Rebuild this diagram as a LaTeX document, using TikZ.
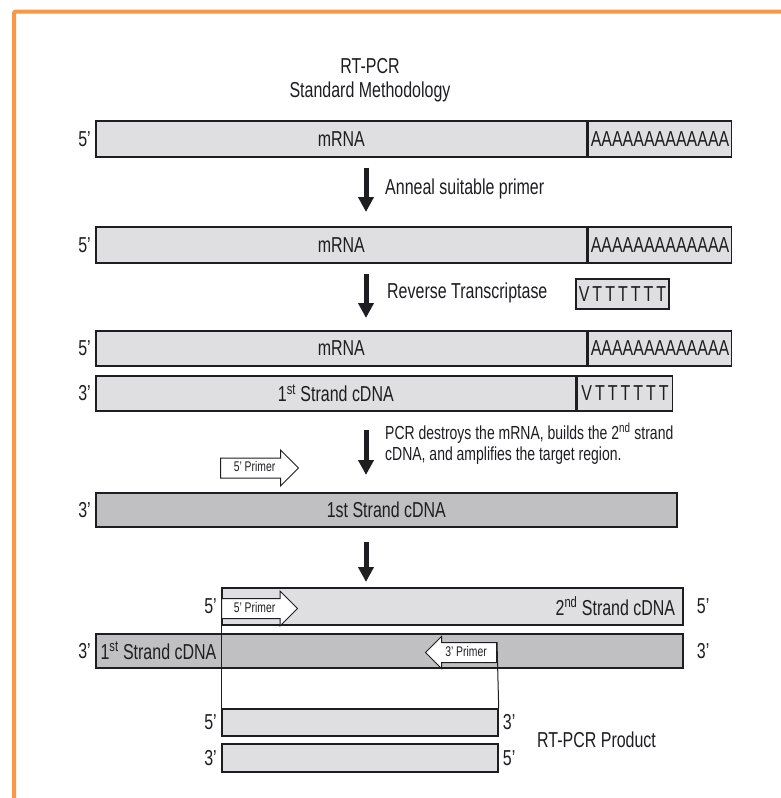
\documentclass[tikz,border=0pt]{standalone}
\usepackage{fontspec}
\setmainfont{Liberation Sans}[FakeStretch=0.74]
\usepackage{xcolor}
\usetikzlibrary{shapes.arrows, arrows.meta, positioning, calc}
\definecolor{grisclaro}{RGB}{223,223,225}
\definecolor{grisoscuro}{RGB}{192,192,194}
\definecolor{naranja}{RGB}{247,152,72}
\definecolor{tinta}{RGB}{30,30,34}
\newcommand{\bigfont}{\fontsize{21.6}{24}\selectfont}
\newcommand{\midfont}{\fontsize{18.9}{21.5}\selectfont}
\newcommand{\primerfont}{\fontsize{14}{15}\selectfont}

\begin{document}
\begin{tikzpicture}[x=1pt, y=-1pt,
    bar/.style={rectangle, draw=tinta, line width=1.7pt, fill=grisclaro, minimum height=36pt, inner sep=0pt, anchor=north west, font=\bigfont, text=tinta},
    darkbar/.style={bar, fill=grisoscuro},
    endlbl/.style={font=\bigfont, text=tinta, inner sep=1pt},
    primer/.style={single arrow, draw=tinta, line width=1pt, fill=white, font=\primerfont, text=tinta, text height=9pt, text depth=2pt, inner ysep=4pt, inner xsep=2pt, anchor=tail},
    bigarrow/.style={line width=5pt, -{Triangle[width=15pt,length=15pt]}, tinta},
    steplbl/.style={font=\bigfont, text=tinta, anchor=west, inner sep=0pt}
]
\fill[white] (0,0) rectangle (780,798);
\useasboundingbox (0,0) rectangle (780,798);
\draw[naranja, line width=4pt, rounded corners=2pt] (14,802) -- (14,11.5) -- (784,11.5);

\node[font=\bigfont, text=tinta, align=center] (titulo) at (370,80) {RT-PCR\\Standard Methodology};

% mRNA
\node[bar, minimum width=491pt] (m1) at (95,120) {mRNA};
\node[bar, minimum width=143pt] (m1a) at (m1.north east) {AAAAAAAAAAAAA};
\node[endlbl, left=3pt of m1] {5'};

% mRNA + primer
\node[bar, minimum width=491pt] (m2) at (95,226) {mRNA};
\node[bar, minimum width=143pt] (m2a) at (m2.north east) {AAAAAAAAAAAAA};
\node[endlbl, left=3pt of m2] {5'};
\node[bar, minimum width=93pt, minimum height=30pt, line width=2pt] (vt) at (575,278) {\addfontfeature{LetterSpace=14}VTTTTTT};

% mRNA / 1st strand
\node[bar, minimum width=491pt, minimum height=35pt] (m3) at (95,330) {mRNA};
\node[bar, minimum width=143pt, minimum height=35pt] (m3a) at (m3.north east) {AAAAAAAAAAAAA};
\node[endlbl, left=3pt of m3] {5'};
\node[bar, minimum width=480pt, minimum height=35pt] (c4) at (95,375) {1\textsuperscript{st} Strand cDNA};
\node[bar, minimum width=95pt, minimum height=35pt] (c4a) at (c4.north east) {\addfontfeature{LetterSpace=14}VTTTTTT};
\node[endlbl, left=3pt of c4] {3'};

% PCR
\node[darkbar, minimum width=581pt, minimum height=34pt] (s5) at (95,492) {1st Strand cDNA};
\node[endlbl, left=3pt of s5] {3'};
\node[primer, minimum height=78pt, single arrow head extend=8pt] (f5) at (220,468) {5' Primer};

\node[bar, minimum width=461pt, minimum height=37pt] (s6) at (221,587) {};
\node[font=\bigfont, text=tinta, anchor=east] (s6t) at ([xshift=-5pt]s6.east) {2\textsuperscript{nd} Strand cDNA};
\node[endlbl, left=3pt of s6] {5'};
\node[endlbl, right=12pt of s6] {5'};
\node[darkbar, minimum width=587pt, minimum height=34pt] (s7) at (95,633) {};
\node[font=\bigfont, text=tinta, anchor=west] (s7t) at ([xshift=2pt]s7.west) {1\textsuperscript{st} Strand cDNA};
\node[endlbl, left=3pt of s7] {3'};
\node[endlbl, right=12pt of s7] {3'};
\node[primer, minimum height=76pt, single arrow head extend=7.5pt] (f6) at (221,608.5) {5' Primer};
\node[primer, minimum height=71pt, single arrow head extend=6pt, shape border rotate=180] (r7) at (497,652.5) {3' Primer};

% product
\node[bar, minimum width=276pt, minimum height=27pt] (p1) at (221,708) {};
\node[bar, minimum width=276pt, minimum height=28pt] (p2) at (221,743) {};
\node[endlbl, left=3pt of p1] {5'};
\node[endlbl, right=3pt of p1] {3'};
\node[endlbl, left=3pt of p2] {3'};
\node[endlbl, right=3pt of p2] {5'};
\coordinate (rtop) at (497,642);
\draw[tinta, line width=1pt] (s6.north west) -- (p1.north west);
\draw[tinta, line width=1pt] (rtop) -- (p1.north east);

% steps
\coordinate (ax) at (366,0);
\draw[bigarrow, shorten <=10pt, shorten >=14pt] (m1.south -| ax) -- (m2.north -| ax);
\draw[bigarrow, shorten <=10pt, shorten >=12pt] (m2.south -| ax) -- (m3.north -| ax);
\draw[bigarrow, shorten <=18pt, shorten >=17pt] (c4.south -| ax) -- (s5.north -| ax);
\draw[bigarrow, shorten <=14pt, shorten >=5pt] (s5.south -| ax) -- (s6.north -| ax);
\node[steplbl] (t1) at (385,189) {Anneal suitable primer};
\node[steplbl] (t2) at (387,293) {Reverse Transcriptase};
\node[steplbl, font=\midfont, align=left] (t3) at (385,444) {PCR destroys the mRNA, builds the 2\textsuperscript{nd} strand\\cDNA, and amplifies the target region.};
\node[steplbl] (t4) at (537,740) {RT-PCR Product};
\end{tikzpicture}
\end{document}
